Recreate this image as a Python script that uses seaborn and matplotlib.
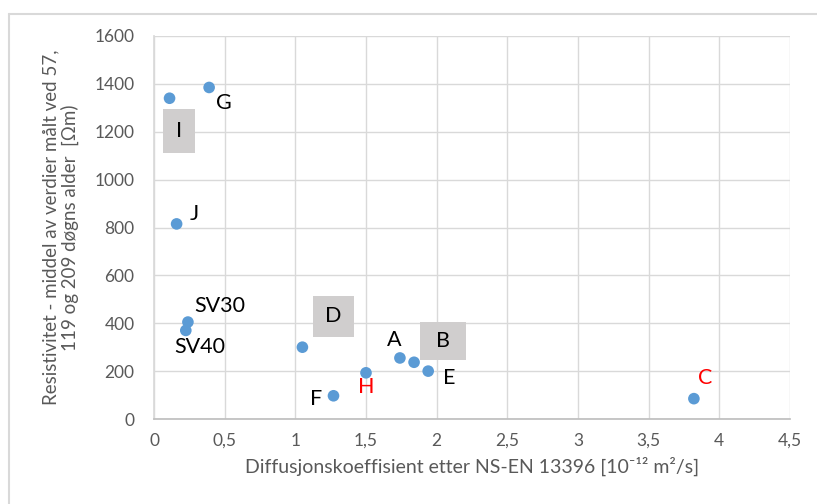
import matplotlib.pyplot as plt
import matplotlib.patches as mpatches
from matplotlib.lines import Line2D
import pandas as pd
import seaborn as sns

# data
names = ["I", "G", "J", "SV30", "SV40", "D", "F", "H", "A", "B", "E", "C"]
diffusion = [0.11, 0.39, 0.16, 0.24, 0.225, 1.05, 1.27, 1.50, 1.74, 1.84, 1.94, 3.82]
resistivity = [1340, 1385, 815, 405, 370, 300, 97, 193, 255, 237, 200, 85]

# label placement (data coords), colour and whether it sits in a grey box
label_x = [0.177, 0.495, 0.283, 0.467, 0.326, 1.267, 1.146, 1.50, 1.70, 2.045, 2.088, 3.90]
label_y = [1203, 1320, 856, 472, 301, 430, 84, 134, 330, 326, 171, 171]
label_color = ["black"] * 7 + ["red"] + ["black"] * 3 + ["red"]
box_px = {"I": (32, 44), "D": (41, 41), "B": (46, 38)}

x_ticks = [0, 0.5, 1, 1.5, 2, 2.5, 3, 3.5, 4, 4.5]
x_ticklabels = ["0", "0,5", "1", "1,5", "2", "2,5", "3", "3,5", "4", "4,5"]
y_ticks = [0, 200, 400, 600, 800, 1000, 1200, 1400, 1600]

df = pd.DataFrame({"name": names, "D": diffusion, "R": resistivity})

sns.set_theme(style="white")
plt.rcParams["font.family"] = ["Lato", "DejaVu Sans"]

fig = plt.figure(figsize=(8.17, 5.04), dpi=100)
ax = fig.add_axes([154 / 817, 85 / 504, 636 / 817, 383 / 504])

sns.scatterplot(data=df, x="D", y="R", ax=ax, color="#5b9bd5", s=70,
                edgecolor="none", zorder=3, legend=False)

ax.set_xlim(0, 4.5)
ax.set_ylim(0, 1600)
ax.set_xticks(x_ticks)
ax.set_xticklabels(x_ticklabels)
ax.set_yticks(y_ticks)
ax.grid(True, color="#d9d9d9", linewidth=1)
ax.set_axisbelow(True)
for side in ["top", "right"]:
    ax.spines[side].set_visible(False)
ax.spines["left"].set_color("#d9d9d9")
ax.spines["bottom"].set_color("#bfbfbf")
ax.tick_params(length=0, labelsize=12.5, labelcolor="#595959")
ax.tick_params(axis="y", pad=14)
ax.tick_params(axis="x", pad=10)

ax.set_xlabel("Diffusjonskoeffisient etter NS-EN 13396 [10⁻¹² m²/s]",
              fontsize=14, color="#595959", labelpad=6)
ax.set_ylabel("Resistivitet - middel av verdier målt ved 57,\n119 og 209 døgns alder  [Ωm)",
              fontsize=13.5, color="#595959", linespacing=1.1)
ax.yaxis.set_label_coords(-0.118, 0.5)

# convert pixel box sizes into data units
px_x = 636 / 4.5
px_y = 383 / 1600
for n, lx, ly, c in zip(names, label_x, label_y, label_color):
    if n in box_px:
        w, h = box_px[n]
        ax.add_patch(mpatches.Rectangle((lx - w / 2 / px_x, ly - h / 2 / px_y),
                                        w / px_x, h / px_y, facecolor="#d0cece",
                                        edgecolor="none", zorder=2))
    ax.text(lx, ly, n, color=c, fontsize=15.5, ha="center", va="center", zorder=4)

# outer chart border (left and top visible in the reference)
fig.add_artist(Line2D([9 / 817, 9 / 817], [0, 1 - 14 / 504], transform=fig.transFigure,
                      color="#d9d9d9", linewidth=1.5))
fig.add_artist(Line2D([9 / 817, 1], [1 - 14 / 504, 1 - 14 / 504], transform=fig.transFigure,
                      color="#d9d9d9", linewidth=1.5))

fig.savefig("out.png", dpi=100)
